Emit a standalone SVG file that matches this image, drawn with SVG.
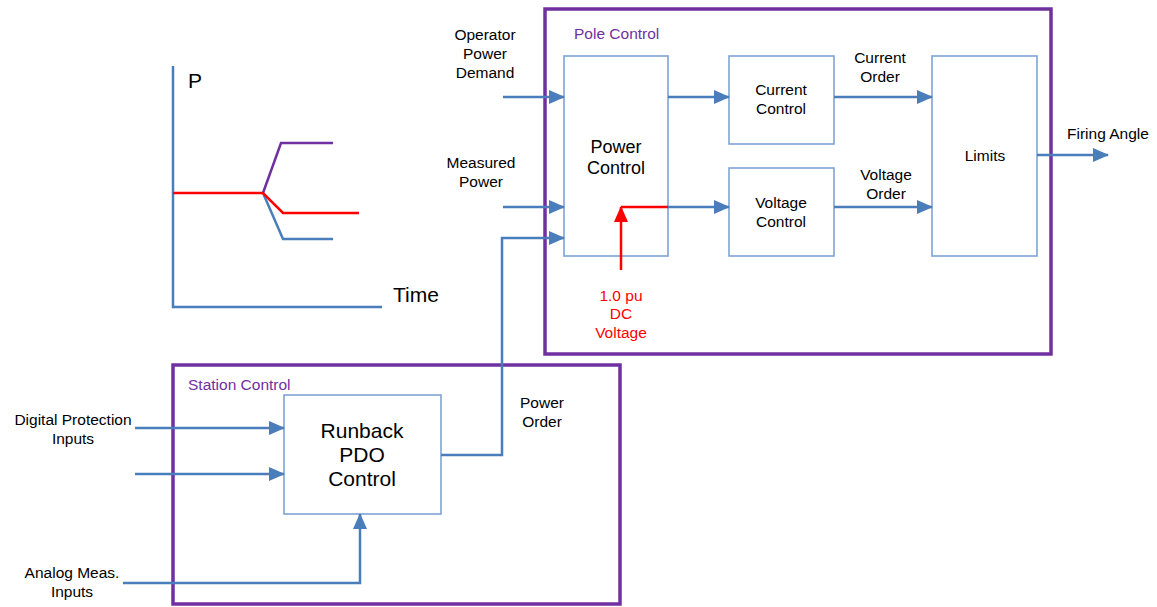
<svg xmlns="http://www.w3.org/2000/svg" width="1157" height="607" viewBox="0 0 1157 607">
<style>
text{font-family:"Liberation Sans",Arial,sans-serif;fill:#000}
.t14{font-size:15.5px;text-anchor:middle}
.lbl{font-size:15.5px;fill:#7030A0}
.box{fill:#fff;stroke:#7fa3d6;stroke-width:1.6}
.grp{fill:none;stroke:#7030A0;stroke-width:3.5}
.w{fill:none;stroke:#4a7ebb;stroke-width:2.5}
.r{fill:none;stroke:#ff0000;stroke-width:2.5}
</style>
<defs>
<marker id="ab" markerUnits="userSpaceOnUse" markerWidth="16" markerHeight="14" refX="15" refY="7" orient="auto"><path d="M0,0 L16,7 L0,14 Z" fill="#4a7ebb"/></marker>
<marker id="ar" markerUnits="userSpaceOnUse" markerWidth="16" markerHeight="14" refX="15" refY="7" orient="auto"><path d="M0,0 L16,7 L0,14 Z" fill="#ff0000"/></marker>
</defs>
<rect width="1157" height="607" fill="#fff"/>
<g id="graph">
<path d="M173,66 V307 H382" fill="none" stroke="#4a7ebb" stroke-width="2.5"/>
<path d="M263,193 L281,143 H333" fill="none" stroke="#7030A0" stroke-width="2.5"/>
<path d="M263,193 L283,239 H333" fill="none" stroke="#4a7ebb" stroke-width="2.5"/>
<path d="M173,193 H263 L283,213 H359" fill="none" stroke="#ff0000" stroke-width="2.5"/>
<text x="188" y="88" font-size="21">P</text>
<text x="393" y="302" font-size="21">Time</text>
</g>
<g id="pole-control">
<rect class="grp" x="545" y="9" width="506" height="345"/>
<text class="lbl" x="574" y="39">Pole Control</text>
</g>
<g id="station-control">
<rect class="grp" x="173" y="365" width="447" height="239"/>
<text class="lbl" x="188" y="390">Station Control</text>
</g>
<g id="power-control">
<rect class="box" x="564" y="56" width="104" height="200"/>
<text class="t14" x="616" y="153" style="font-size:18px">Power</text>
<text class="t14" x="616" y="174" style="font-size:18px">Control</text>
</g>
<g id="current-control">
<rect class="box" x="729" y="56" width="105" height="88"/>
<text class="t14" x="781" y="95">Current</text>
<text class="t14" x="781" y="114">Control</text>
</g>
<g id="voltage-control">
<rect class="box" x="729" y="168" width="105" height="88"/>
<text class="t14" x="781" y="208">Voltage</text>
<text class="t14" x="781" y="227">Control</text>
</g>
<g id="limits">
<rect class="box" x="932" y="56" width="105" height="200"/>
<text class="t14" x="985" y="161">Limits</text>
</g>
<g id="runback">
<rect class="box" x="284" y="395" width="157" height="119"/>
<text class="t14" x="362" y="438" style="font-size:21px">Runback</text>
<text class="t14" x="362" y="462" style="font-size:21px">PDO</text>
<text class="t14" x="362" y="486" style="font-size:21px">Control</text>
</g>
<g id="connectors">
<path class="w" d="M503,97 H564" marker-end="url(#ab)"/>
<path class="w" d="M503,207 H564" marker-end="url(#ab)"/>
<path class="w" d="M441,455 H502 V238 H564" marker-end="url(#ab)"/>
<path class="w" d="M668,97 H729" marker-end="url(#ab)"/>
<path class="w" d="M668,207 H729" marker-end="url(#ab)"/>
<path class="r" d="M621,207 H668"/>
<path class="r" d="M621,270 V207" marker-end="url(#ar)"/>
<path class="w" d="M834,97 H932" marker-end="url(#ab)"/>
<path class="w" d="M834,207 H932" marker-end="url(#ab)"/>
<path class="w" d="M1037,155 H1108" marker-end="url(#ab)"/>
<path class="w" d="M135,428 H284" marker-end="url(#ab)"/>
<path class="w" d="M135,474 H284" marker-end="url(#ab)"/>
<path class="w" d="M123,583 H360 V514" marker-end="url(#ab)"/>
</g>
<g id="labels">
<text class="t14" x="485" y="40">Operator</text>
<text class="t14" x="485" y="59">Power</text>
<text class="t14" x="485" y="78">Demand</text>
<text class="t14" x="481" y="168">Measured</text>
<text class="t14" x="481" y="187">Power</text>
<text class="t14" x="880" y="63">Current</text>
<text class="t14" x="880" y="82">Order</text>
<text class="t14" x="886" y="180">Voltage</text>
<text class="t14" x="886" y="199">Order</text>
<text x="1067" y="139" style="font-size:15.5px">Firing Angle</text>
<text class="t14" x="621" y="301" style="fill:#ff0000">1.0 pu</text>
<text class="t14" x="621" y="319" style="fill:#ff0000">DC</text>
<text class="t14" x="621" y="338" style="fill:#ff0000">Voltage</text>
<text class="t14" x="542" y="408">Power</text>
<text class="t14" x="542" y="427">Order</text>
<text class="t14" x="73" y="425">Digital Protection</text>
<text class="t14" x="73" y="444">Inputs</text>
<text class="t14" x="72" y="578">Analog Meas.</text>
<text class="t14" x="72" y="597">Inputs</text>
</g>
</svg>
